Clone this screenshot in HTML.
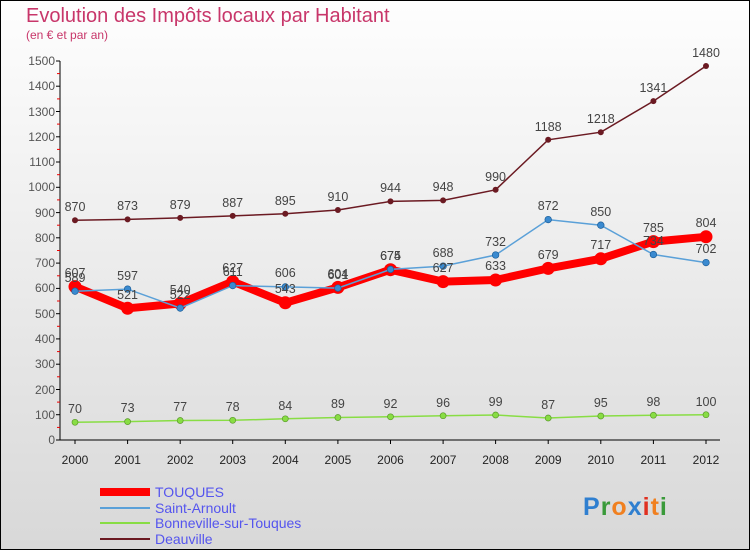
<!DOCTYPE html><html><head><style>body{margin:0}text{font-family:"Liberation Sans",sans-serif}</style></head><body>
<svg width="750" height="550" xmlns="http://www.w3.org/2000/svg">
<defs><linearGradient id="bg" x1="0" y1="0" x2="0" y2="1"><stop offset="0" stop-color="#fefefe"/><stop offset="1" stop-color="#d8d8d8"/></linearGradient></defs>
<rect x="0.5" y="0.5" width="749" height="549" fill="url(#bg)" stroke="#000"/>
<text x="26" y="22" font-size="20" fill="#c8366a">Evolution des Impôts locaux par Habitant</text>
<text x="26" y="39" font-size="12" fill="#c8366a">(en € et par an)</text>
<g stroke="#000"><line x1="60" y1="61" x2="60" y2="440"/><line x1="60" y1="440" x2="720" y2="440"/></g>
<g stroke="#000">
<line x1="56" x2="60" y1="440" y2="440"/><line x1="56" x2="60" y1="414.7" y2="414.7"/><line x1="56" x2="60" y1="389.5" y2="389.5"/><line x1="56" x2="60" y1="364.2" y2="364.2"/><line x1="56" x2="60" y1="338.9" y2="338.9"/><line x1="56" x2="60" y1="313.7" y2="313.7"/><line x1="56" x2="60" y1="288.4" y2="288.4"/><line x1="56" x2="60" y1="263.1" y2="263.1"/><line x1="56" x2="60" y1="237.8" y2="237.8"/><line x1="56" x2="60" y1="212.6" y2="212.6"/><line x1="56" x2="60" y1="187.3" y2="187.3"/><line x1="56" x2="60" y1="162" y2="162"/><line x1="56" x2="60" y1="136.8" y2="136.8"/><line x1="56" x2="60" y1="111.5" y2="111.5"/><line x1="56" x2="60" y1="86.2" y2="86.2"/><line x1="56" x2="60" y1="61" y2="61"/>
</g>
<g stroke="#e00"><line x1="57" x2="60" y1="427.4" y2="427.4"/><line x1="57" x2="60" y1="402.1" y2="402.1"/><line x1="57" x2="60" y1="376.8" y2="376.8"/><line x1="57" x2="60" y1="351.6" y2="351.6"/><line x1="57" x2="60" y1="326.3" y2="326.3"/><line x1="57" x2="60" y1="301" y2="301"/><line x1="57" x2="60" y1="275.8" y2="275.8"/><line x1="57" x2="60" y1="250.5" y2="250.5"/><line x1="57" x2="60" y1="225.2" y2="225.2"/><line x1="57" x2="60" y1="199.9" y2="199.9"/><line x1="57" x2="60" y1="174.7" y2="174.7"/><line x1="57" x2="60" y1="149.4" y2="149.4"/><line x1="57" x2="60" y1="124.1" y2="124.1"/><line x1="57" x2="60" y1="98.9" y2="98.9"/><line x1="57" x2="60" y1="73.6" y2="73.6"/></g>
<g font-size="12" fill="#555" text-anchor="end">
<text x="55" y="444">0</text><text x="55" y="419">100</text><text x="55" y="394">200</text><text x="55" y="368">300</text><text x="55" y="343">400</text><text x="55" y="318">500</text><text x="55" y="292">600</text><text x="55" y="267">700</text><text x="55" y="242">800</text><text x="55" y="217">900</text><text x="55" y="191">1000</text><text x="55" y="166">1100</text><text x="55" y="141">1200</text><text x="55" y="116">1300</text><text x="55" y="90">1400</text><text x="55" y="65">1500</text>
</g>
<g stroke="#000"><line x1="75" x2="75" y1="440" y2="444"/><line x1="127.6" x2="127.6" y1="440" y2="444"/><line x1="180.2" x2="180.2" y1="440" y2="444"/><line x1="232.7" x2="232.7" y1="440" y2="444"/><line x1="285.3" x2="285.3" y1="440" y2="444"/><line x1="337.9" x2="337.9" y1="440" y2="444"/><line x1="390.5" x2="390.5" y1="440" y2="444"/><line x1="443.1" x2="443.1" y1="440" y2="444"/><line x1="495.6" x2="495.6" y1="440" y2="444"/><line x1="548.2" x2="548.2" y1="440" y2="444"/><line x1="600.8" x2="600.8" y1="440" y2="444"/><line x1="653.4" x2="653.4" y1="440" y2="444"/><line x1="706" x2="706" y1="440" y2="444"/></g>
<g font-size="12" fill="#222" text-anchor="middle">
<text x="75" y="464">2000</text><text x="127.6" y="464">2001</text><text x="180.2" y="464">2002</text><text x="232.7" y="464">2003</text><text x="285.3" y="464">2004</text><text x="337.9" y="464">2005</text><text x="390.5" y="464">2006</text><text x="443.1" y="464">2007</text><text x="495.6" y="464">2008</text><text x="548.2" y="464">2009</text><text x="600.8" y="464">2010</text><text x="653.4" y="464">2011</text><text x="706" y="464">2012</text>
</g>
<polyline fill="none" stroke="#6b1a22" stroke-width="1.5" points="75,220.2 127.6,219.4 180.2,217.9 232.7,215.9 285.3,213.8 337.9,210 390.5,201.4 443.1,200.4 495.6,189.8 548.2,139.8 600.8,132.2 653.4,101.1 706,66"/>
<g fill="#6b1a22"><circle cx="75" cy="220.2" r="3"/><circle cx="127.6" cy="219.4" r="3"/><circle cx="180.2" cy="217.9" r="3"/><circle cx="232.7" cy="215.9" r="3"/><circle cx="285.3" cy="213.8" r="3"/><circle cx="337.9" cy="210" r="3"/><circle cx="390.5" cy="201.4" r="3"/><circle cx="443.1" cy="200.4" r="3"/><circle cx="495.6" cy="189.8" r="3"/><circle cx="548.2" cy="139.8" r="3"/><circle cx="600.8" cy="132.2" r="3"/><circle cx="653.4" cy="101.1" r="3"/><circle cx="706" cy="66" r="3"/></g>
<polyline fill="none" stroke="#88dd44" stroke-width="1.5" points="75,422.3 127.6,421.6 180.2,420.5 232.7,420.3 285.3,418.8 337.9,417.5 390.5,416.8 443.1,415.7 495.6,415 548.2,418 600.8,416 653.4,415.2 706,414.7"/>
<g fill="#88dd44" stroke="#5a9a2a" stroke-width=".7"><circle cx="75" cy="422.3" r="3"/><circle cx="127.6" cy="421.6" r="3"/><circle cx="180.2" cy="420.5" r="3"/><circle cx="232.7" cy="420.3" r="3"/><circle cx="285.3" cy="418.8" r="3"/><circle cx="337.9" cy="417.5" r="3"/><circle cx="390.5" cy="416.8" r="3"/><circle cx="443.1" cy="415.7" r="3"/><circle cx="495.6" cy="415" r="3"/><circle cx="548.2" cy="418" r="3"/><circle cx="600.8" cy="416" r="3"/><circle cx="653.4" cy="415.2" r="3"/><circle cx="706" cy="414.7" r="3"/></g>
<polyline fill="none" stroke="#f00" stroke-width="8" stroke-linejoin="round" points="75,286.6 127.6,308.3 180.2,303.5 232.7,281.6 285.3,302.8 337.9,287.4 390.5,269.7 443.1,281.6 495.6,280 548.2,268.4 600.8,258.8 653.4,241.6 706,236.8"/>
<g fill="#f00"><circle cx="75" cy="286.6" r="6.5"/><circle cx="127.6" cy="308.3" r="6.5"/><circle cx="180.2" cy="303.5" r="6.5"/><circle cx="232.7" cy="281.6" r="6.5"/><circle cx="285.3" cy="302.8" r="6.5"/><circle cx="337.9" cy="287.4" r="6.5"/><circle cx="390.5" cy="269.7" r="6.5"/><circle cx="443.1" cy="281.6" r="6.5"/><circle cx="495.6" cy="280" r="6.5"/><circle cx="548.2" cy="268.4" r="6.5"/><circle cx="600.8" cy="258.8" r="6.5"/><circle cx="653.4" cy="241.6" r="6.5"/><circle cx="706" cy="236.8" r="6.5"/></g>
<polyline fill="none" stroke="#5aa0d8" stroke-width="1.5" points="75,291.2 127.6,289.1 180.2,308.1 232.7,285.6 285.3,286.9 337.9,288.1 390.5,269.4 443.1,266.1 495.6,255 548.2,219.6 600.8,225.2 653.4,254.5 706,262.6"/>
<g fill="#3a8ad0" stroke="#1d5f99" stroke-width=".7"><circle cx="75" cy="291.2" r="3.3"/><circle cx="127.6" cy="289.1" r="3.3"/><circle cx="180.2" cy="308.1" r="3.3"/><circle cx="232.7" cy="285.6" r="3.3"/><circle cx="285.3" cy="286.9" r="3.3"/><circle cx="337.9" cy="288.1" r="3.3"/><circle cx="390.5" cy="269.4" r="3.3"/><circle cx="443.1" cy="266.1" r="3.3"/><circle cx="495.6" cy="255" r="3.3"/><circle cx="548.2" cy="219.6" r="3.3"/><circle cx="600.8" cy="225.2" r="3.3"/><circle cx="653.4" cy="254.5" r="3.3"/><circle cx="706" cy="262.6" r="3.3"/></g>
<g font-size="12.5" fill="#444" text-anchor="middle">
<text x="75" y="211">870</text><text x="127.6" y="210">873</text><text x="180.2" y="209">879</text><text x="232.7" y="207">887</text><text x="285.3" y="205">895</text><text x="337.9" y="201">910</text><text x="390.5" y="192">944</text><text x="443.1" y="191">948</text><text x="495.6" y="181">990</text><text x="548.2" y="131">1188</text><text x="600.8" y="123">1218</text><text x="653.4" y="92">1341</text><text x="706" y="57">1480</text>
<text x="75" y="413">70</text><text x="127.6" y="412">73</text><text x="180.2" y="411">77</text><text x="232.7" y="411">78</text><text x="285.3" y="410">84</text><text x="337.9" y="408">89</text><text x="390.5" y="408">92</text><text x="443.1" y="407">96</text><text x="495.6" y="406">99</text><text x="548.2" y="409">87</text><text x="600.8" y="407">95</text><text x="653.4" y="406">98</text><text x="706" y="406">100</text>
<text x="75" y="277">607</text><text x="127.6" y="299">521</text><text x="180.2" y="294">540</text><text x="232.7" y="272">627</text><text x="285.3" y="293">543</text><text x="337.9" y="278">604</text><text x="390.5" y="260">674</text><text x="443.1" y="272">627</text><text x="495.6" y="270">633</text><text x="548.2" y="259">679</text><text x="600.8" y="249">717</text><text x="653.4" y="232">785</text><text x="706" y="227">804</text>
<text x="75" y="282">589</text><text x="127.6" y="280">597</text><text x="180.2" y="299">522</text><text x="232.7" y="276">611</text><text x="285.3" y="277">606</text><text x="337.9" y="279">601</text><text x="390.5" y="260">675</text><text x="443.1" y="257">688</text><text x="495.6" y="246">732</text><text x="548.2" y="210">872</text><text x="600.8" y="216">850</text><text x="653.4" y="245">734</text><text x="706" y="253">702</text>
</g>
<line x1="100" y1="492" x2="150" y2="492" stroke="#f00" stroke-width="8"/>
<line x1="100" y1="508" x2="150" y2="508" stroke="#5aa0d8" stroke-width="2"/>
<line x1="100" y1="523" x2="150" y2="523" stroke="#88dd44" stroke-width="2"/>
<line x1="100" y1="539" x2="150" y2="539" stroke="#6b1a22" stroke-width="2"/>
<g font-size="14" fill="#5555ee"><text x="155" y="497">TOUQUES</text><text x="155" y="513">Saint-Arnoult</text><text x="155" y="528">Bonneville-sur-Touques</text><text x="155" y="544">Deauville</text></g>
<text x="583" y="515" font-size="25" font-weight="bold" letter-spacing="1" fill="#2f7fd0">P<tspan fill="#3a9a3a">r</tspan><tspan fill="#f08020">o</tspan><tspan fill="#2f7fd0">x</tspan><tspan fill="#e03020">i</tspan><tspan fill="#f08020">t</tspan><tspan fill="#3a9a3a">i</tspan></text>
</svg>
</body></html>
